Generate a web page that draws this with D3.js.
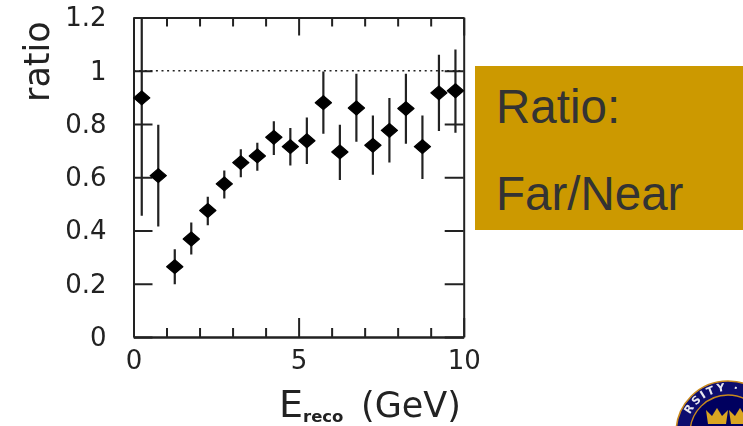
<!DOCTYPE html>
<html>

<head>
  <meta charset="utf-8" />
  <title>Ratio: Far/Near</title>
  <style>
    html, body {
      margin: 0;
      padding: 0;
      background: #fff;
      overflow: hidden;
    }

    svg {
      display: block;
    }

    text {
      font-family: "DejaVu Sans", sans-serif;
      fill: #222;
    }

    .panel-text {
      font-family: "Liberation Sans", Arial, sans-serif;
      font-size: 47.5px;
      fill: #333;
    }
  </style>
  <script src="https://cdnjs.cloudflare.com/ajax/libs/d3/7.8.5/d3.min.js"></script>
</head>

<body>
  <div id="chartArea"></div>
  <script>
    // bin centres, ratio, and the ends of each error bar
    var energy = [0.25, 0.75, 1.25, 1.75, 2.25, 2.75, 3.25, 3.75, 4.25, 4.75,
      5.25, 5.75, 6.25, 6.75, 7.25, 7.75, 8.25, 8.75, 9.25, 9.75];
    var ratio = [0.898, 0.606, 0.264, 0.368, 0.475, 0.575, 0.655, 0.68, 0.75, 0.715,
      0.737, 0.88, 0.695, 0.86, 0.72, 0.776, 0.858, 0.715, 0.917, 0.925];
    var errHigh = [1.3, 0.797, 0.33, 0.43, 0.527, 0.625, 0.705, 0.73, 0.81, 0.785,
      0.824, 0.997, 0.797, 0.989, 0.832, 0.898, 0.989, 0.832, 1.06, 1.08];
    var errLow = [0.455, 0.415, 0.198, 0.31, 0.42, 0.52, 0.6, 0.624, 0.684, 0.644,
      0.65, 0.763, 0.59, 0.733, 0.609, 0.655, 0.726, 0.593, 0.774, 0.767];

    var xMajorTicks = [0, 5, 10];
    var xMinorTicks = [1, 2, 3, 4, 6, 7, 8, 9];
    var yTicks = [0, 0.2, 0.4, 0.6, 0.8, 1, 1.2];
    var panelLines = ['Ratio:', 'Far/Near'];
    var sealText = 'RSITY ·'; // only this part of the ring is on the page

    var w = 743,
      h = 426;

    var xScale = d3.scaleLinear().domain([0, 10]).range([133.5, 463.7]);
    var yScale = d3.scaleLinear().domain([0, 1.2]).range([337, 17.5]);

    var svg = d3.select('#chartArea').append('svg')
      .attr('width', w)
      .attr('height', h);

    var defs = svg.append('defs');
    // the original is a scanned plot, so everything in it is a bit soft
    defs.append('filter').attr('id', 'soft')
      .append('feGaussianBlur').attr('stdDeviation', 0.5);
    defs.append('clipPath').attr('id', 'plotClip')
      .append('rect')
      .attr('x', xScale(0))
      .attr('y', yScale(1.2))
      .attr('width', xScale(10) - xScale(0))
      .attr('height', yScale(0) - yScale(1.2));

    var plot = svg.append('g').attr('filter', 'url(#soft)');

    function styleAxis(g) {
      g.selectAll('path, line').attr('stroke', '#222').attr('stroke-width', 2);
      g.selectAll('text')
        .attr('font-family', '"DejaVu Sans", sans-serif')
        .attr('font-size', 26)
        .attr('fill', '#222');
    }

    function noLabel() {
      return '';
    }

    // bottom axis carries the labels, top and right only mirror the ticks
    plot.append('g')
      .attr('transform', 'translate(0,' + yScale(0) + ')')
      .call(d3.axisBottom(xScale).tickValues(xMajorTicks).tickSize(-19).tickSizeOuter(0).tickPadding(14).tickFormat(String))
      .call(styleAxis);
    plot.append('g')
      .attr('transform', 'translate(0,' + yScale(0) + ')')
      .call(d3.axisBottom(xScale).tickValues(xMinorTicks).tickSize(-9).tickSizeOuter(0).tickFormat(noLabel))
      .call(styleAxis);
    plot.append('g')
      .attr('transform', 'translate(0,' + yScale(1.2) + ')')
      .call(d3.axisTop(xScale).tickValues(xMajorTicks).tickSize(-18).tickSizeOuter(0).tickFormat(noLabel))
      .call(styleAxis);
    plot.append('g')
      .attr('transform', 'translate(0,' + yScale(1.2) + ')')
      .call(d3.axisTop(xScale).tickValues(xMinorTicks).tickSize(-9).tickSizeOuter(0).tickFormat(noLabel))
      .call(styleAxis);
    plot.append('g')
      .attr('transform', 'translate(' + xScale(0) + ',0)')
      .call(d3.axisLeft(yScale).tickValues(yTicks).tickSize(-19).tickSizeOuter(0).tickPadding(27).tickFormat(String))
      .call(styleAxis);
    plot.append('g')
      .attr('transform', 'translate(' + xScale(10) + ',0)')
      .call(d3.axisRight(yScale).tickValues(yTicks).tickSize(-19).tickSizeOuter(0).tickFormat(noLabel))
      .call(styleAxis);

    // dotted line at ratio = 1
    plot.append('line')
      .attr('x1', xScale(0))
      .attr('x2', xScale(10))
      .attr('y1', yScale(1))
      .attr('y2', yScale(1))
      .attr('stroke', '#222')
      .attr('stroke-width', 1.6)
      .attr('stroke-dasharray', '2 3.6');

    plot.append('g')
      .attr('clip-path', 'url(#plotClip)')
      .selectAll('line')
      .data(energy)
      .enter()
      .append('line')
      .attr('x1', d => xScale(d))
      .attr('x2', d => xScale(d))
      .attr('y1', (d, i) => yScale(errHigh[i]))
      .attr('y2', (d, i) => yScale(errLow[i]))
      .attr('stroke', '#222')
      .attr('stroke-width', 2.2);

    // squat diamond, wider than d3.symbolDiamond
    var wideDiamond = {
      draw: function (context, size) {
        var a = Math.sqrt(size);
        context.moveTo(-a * 0.56, 0);
        context.lineTo(0, -a * 0.48);
        context.lineTo(a * 0.56, 0);
        context.lineTo(0, a * 0.48);
        context.closePath();
      }
    };

    plot.append('g')
      .selectAll('path')
      .data(energy)
      .enter()
      .append('path')
      .attr('transform', (d, i) => 'translate(' + xScale(d) + ',' + yScale(ratio[i]) + ')')
      .attr('d', d3.symbol().type(wideDiamond).size(210))
      .attr('fill', '#000')
      .attr('stroke', '#000')
      .attr('stroke-width', 1.2)
      .attr('stroke-linejoin', 'round');

    // axis titles
    plot.append('text')
      .attr('transform', 'translate(49,102) rotate(-90)')
      .attr('font-size', 35)
      .text('ratio');
    plot.append('text')
      .attr('x', 279)
      .attr('y', 417)
      .attr('font-size', 38)
      .text('E');
    plot.append('text')
      .attr('x', 303)
      .attr('y', 422)
      .attr('font-size', 16.5)
      .attr('font-weight', 'bold')
      .text('reco');
    plot.append('text')
      .attr('x', 361)
      .attr('y', 417)
      .attr('font-size', 35)
      .text('(GeV)');

    // gold panel
    svg.append('rect')
      .attr('x', 475)
      .attr('y', 66)
      .attr('width', 268)
      .attr('height', 164)
      .attr('fill', '#cc9900');
    svg.selectAll('.panel-text')
      .data(panelLines)
      .enter()
      .append('text')
      .attr('class', 'panel-text')
      .attr('x', 496)
      .attr('y', (d, i) => 123 + i * 87)
      .text(d => d);

    // university seal, cut off by the corner of the page
    var sealX = 728,
      sealY = 433,
      sealR = 52;
    var seal = svg.append('g').attr('filter', 'url(#soft)');
    seal.append('circle')
      .attr('cx', sealX).attr('cy', sealY).attr('r', sealR)
      .attr('fill', '#0a0a6e')
      .attr('stroke', '#c98a1e')
      .attr('stroke-width', 1.6);
    seal.append('circle')
      .attr('cx', sealX).attr('cy', sealY).attr('r', sealR - 14)
      .attr('fill', '#06065e')
      .attr('stroke', '#c98a1e')
      .attr('stroke-width', 1.4);
    defs.append('path')
      .attr('id', 'sealArc')
      .attr('d', d3.arc()({
        innerRadius: sealR - 10,
        outerRadius: sealR - 10,
        startAngle: -1.12,
        endAngle: 0.6
      }))
      .attr('transform', 'translate(' + sealX + ',' + sealY + ')');
    seal.append('text')
      .attr('font-size', 11)
      .attr('font-weight', 'bold')
      .attr('letter-spacing', 2)
      .style('fill', '#e8e8f0')
      .append('textPath')
      .attr('href', '#sealArc')
      .text(sealText);
    // crowns
    var crown = 'M-9,8 L-11,-6 L-5,0 L0,-8 L5,0 L11,-6 L9,8 Z';
    seal.selectAll('.crown')
      .data([-11, 12])
      .enter()
      .append('path')
      .attr('class', 'crown')
      .attr('transform', d => 'translate(' + (sealX + d) + ',' + (sealY - 17) + ')')
      .attr('d', crown)
      .attr('fill', '#d9a520');
  </script>
</body>

</html>
